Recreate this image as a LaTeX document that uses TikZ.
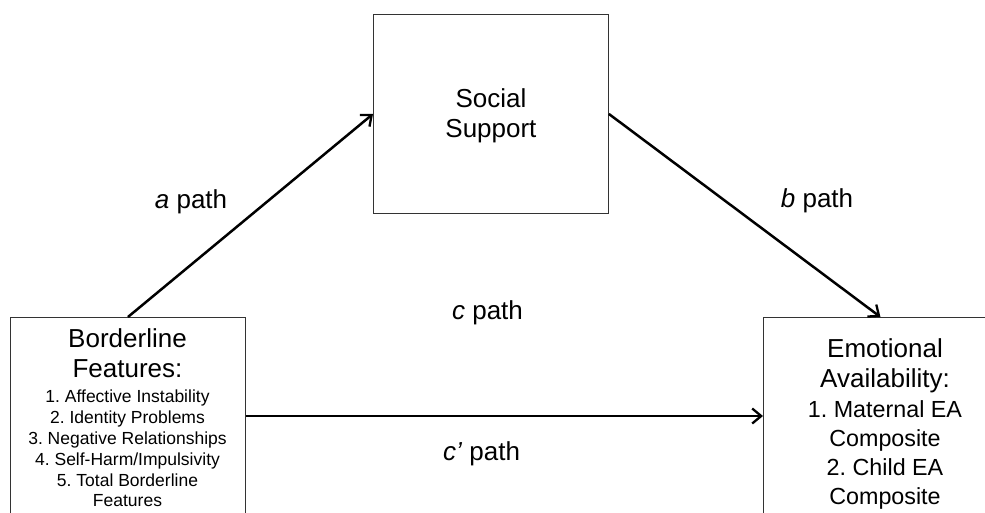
\documentclass[tikz,border=0pt]{standalone}
\usepackage{fontspec}
\setmainfont{Liberation Sans}
\usetikzlibrary{arrows.meta}

% font size switch with a fixed interword space
\newcommand{\fsz}[2]{\fontsize{#1}{#2}\selectfont\frenchspacing\spaceskip=0.278em\relax}

\begin{document}
\begin{tikzpicture}[x=1pt,y=-1pt,
  box/.style={draw=black!80, line width=0.9pt, fill=white, rectangle,
    inner sep=0pt, anchor=north west},
  txt/.style={align=flush center, text width=240pt, inner sep=0pt, anchor=north},
  hd/.style={font=\fsz{26}{30.6}},
  pathlbl/.style={font=\fsz{26}{30}, inner sep=0pt, anchor=base},
  conn/.style={line width=2.5pt, draw=black,
    -{Straight Barb[length=9pt,width=15pt,line width=2.3pt]}}]
  \useasboundingbox (0,0) rectangle (985,512);
  \begin{scope}
    \clip (0,0) rectangle (985,512);

    % the three boxes
    \node[box, minimum width=235pt, minimum height=199pt] (ss) at (373,14) {};
    \node[box, minimum width=235pt, minimum height=260pt] (bf) at (10,317) {};
    \node[box, minimum width=244pt, minimum height=260pt] (ea) at (763,317) {};

    % box texts
    \node[txt, hd, anchor=center] (ss-t) at ([yshift=-2pt]ss.center) {Social\\Support};

    \node[txt] (bf-t) at (127.5,328.3) {%
      \fsz{26}{30.6}Borderline\\Features:\par
      \vspace{4.2pt}%
      \fsz{17.5}{20.8}%
      1. Affective Instability\\2. Identity Problems\\3. Negative Relationships\\
      4. Self-Harm/Impulsivity\\5. Total Borderline\\Features\par};

    \node[txt] (ea-t) at (885,338.1) {%
      \fsz{26}{30.6}Emotional\\Availability:\par
      \fsz{23.3}{29.3}%
      1. Maternal EA\\Composite\\2. Child EA\\Composite\par};

    % connectors
    \draw[conn] (bf.north) -- (ss.west);
    \draw[conn] (ss.east) -- ([xshift=-5pt]ea.north);
    \draw[conn] ([yshift=-99pt]bf.north east) -- ([yshift=-99pt]ea.north west);

    % path labels
    \node[pathlbl] (la) at (191,208) {\textit{a} path};
    \node[pathlbl] (lb) at (817,207) {\textit{b} path};
    \node[pathlbl] (lc) at (487.5,319) {\textit{c} path};
    \node[pathlbl] (lcp) at (481.5,460) {\textit{c’} path};
  \end{scope}
\end{tikzpicture}
\end{document}
